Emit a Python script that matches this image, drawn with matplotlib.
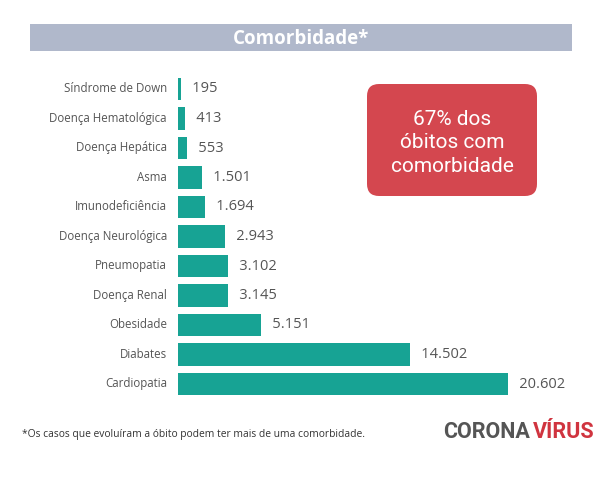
import matplotlib.pyplot as plt
from matplotlib.patches import FancyBboxPatch, Rectangle

categorias = ["Síndrome de Down", "Doença Hematológica", "Doença Hepática", "Asma",
              "Imunodeficiência", "Doença Neurológica", "Pneumopatia", "Doença Renal",
              "Obesidade", "Diabates", "Cardiopatia"]
obitos = [195, 413, 553, 1501, 1694, 2943, 3102, 3145, 5151, 14502, 20602]
rotulos = ["195", "413", "553", "1.501", "1.694", "2.943", "3.102", "3.145",
           "5.151", "14.502", "20.602"]

W, H = 602, 480
fig = plt.figure(figsize=(W / 100, H / 100), dpi=100)
fig.patch.set_facecolor("white")

# eixo: x0 = 178 px, 20602 -> 508 px
xmax = 26000
left = 178 / W
width = 330 * xmax / 20602 / W
bottom = 1 - 398.75 / H
top = 1 - 74.25 / H
ax = fig.add_axes([left, bottom, width, top - bottom])
ax.set_xlim(0, xmax)
ax.set_ylim(len(categorias) - 0.5, -0.5)
ax.axis("off")

pos = list(range(len(categorias)))
ax.barh(pos, obitos, height=0.75, color="#17a394")
for i, (v, r) in enumerate(zip(obitos, rotulos)):
    ax.text(v, i, "   " + r, va="center", ha="left", fontsize=10.5,
            color="#555555", family="Open Sans")
    ax.annotate(categorias[i], xy=(0, i), xytext=(-8, 0), textcoords="offset points",
                va="center", ha="right", fontsize=8.3, color="#555555",
                family="Open Sans")

# barra do título
fig.patches.append(Rectangle((30 / W, 1 - 51 / H), 542 / W, 27 / H,
                             transform=fig.transFigure, facecolor="#b0b8cb",
                             edgecolor="none"))
fig.text(301 / W, 1 - 38.5 / H, "Comorbidade*", ha="center", va="center",
         fontsize=13.5, fontweight="bold", color="white", family="Open Sans")

# caixa vermelha
fig.patches.append(FancyBboxPatch((367 / W, 1 - 196 / H), 170 / W, 112 / H,
                                  boxstyle="round,pad=0,rounding_size=0.02",
                                  transform=fig.transFigure, facecolor="#d4474f",
                                  edgecolor="none", mutation_aspect=W / H))
fig.text(452 / W, 1 - 143 / H, "67% dos\nóbitos com\ncomorbidade", ha="center",
         va="center", fontsize=15, color="white", family="Roboto",
         linespacing=1.3)

# rodapé
fig.text(22 / W, 1 - 434 / H,
         "*Os casos que evoluíram a óbito podem ter mais de uma comorbidade.",
         ha="left", va="center", fontsize=7.4, color="#333333", family="Open Sans")
fig.text(530 / W, 1 - 432 / H, "CORONA", ha="right", va="center", fontsize=15.5,
         fontweight="bold", color="#555555", family="Roboto")
fig.text(533 / W, 1 - 432 / H, "VÍRUS", ha="left", va="center", fontsize=15.5,
         fontweight="bold", color="#d0343f", family="Roboto")

fig.savefig("out.png", dpi=100)
